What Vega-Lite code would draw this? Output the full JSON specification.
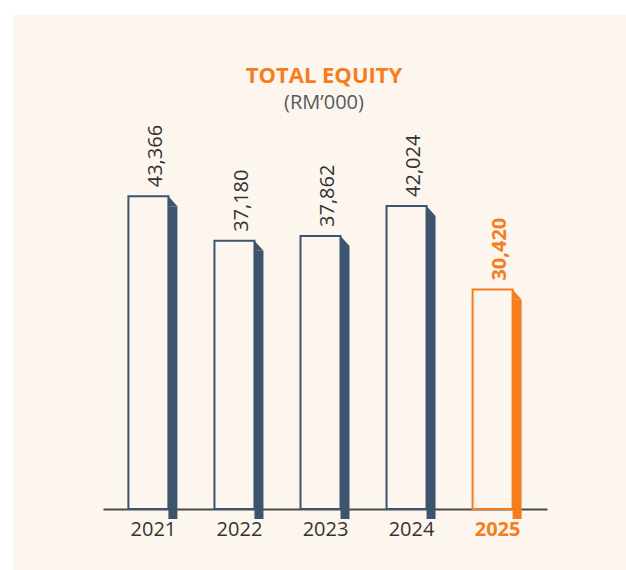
{
  "$schema": "https://vega.github.io/schema/vega-lite/v6.json",
  "autosize": {"type": "none"},
  "width": 613,
  "height": 555,
  "padding": {"left": 13, "top": 15, "right": 0, "bottom": 0},
  "background": "#ffffff",
  "config": {"view": {"fill": "#fdf6ef", "stroke": null}, "font": "Open Sans"},
  "title": {
    "text": "TOTAL EQUITY",
    "subtitle": "(RM’000)",
    "anchor": "middle",
    "orient": "top",
    "offset": -99,
    "dx": 4.5,
    "font": "Open Sans",
    "fontSize": 22,
    "fontWeight": "bold",
    "color": "#f47d20",
    "subtitleFont": "Open Sans",
    "subtitleFontSize": 20,
    "subtitleColor": "#58595b",
    "subtitlePadding": 5
  },
  "data": {
    "values": [
      {"year": "2021", "value": 43366, "label": "43,366"},
      {"year": "2022", "value": 37180, "label": "37,180"},
      {"year": "2023", "value": 37862, "label": "37,862"},
      {"year": "2024", "value": 42024, "label": "42,024"},
      {"year": "2025", "value": 30420, "label": "30,420"}
    ]
  },
  "encoding": {
    "x": {
      "field": "year",
      "type": "nominal",
      "sort": null,
      "scale": {"type": "point", "range": [90, 534], "padding": 0.58},
      "axis": {
        "title": null,
        "domain": true,
        "domainColor": "#4a4a4a",
        "domainWidth": 2,
        "ticks": false,
        "tickSize": 0,
        "grid": false,
        "labelAngle": 0,
        "labelPadding": 10,
        "labelFont": "Open Sans",
        "labelFontSize": 20,
        "labelColor": {"condition": {"test": "datum.value === '2025'", "value": "#f47d20"}, "value": "#333333"},
        "labelFontWeight": {"condition": {"test": "datum.value === '2025'", "value": "bold"}, "value": "normal"},
        "offset": -61
      }
    },
    "y": {
      "field": "value",
      "type": "quantitative",
      "scale": {"domain": [0, 68500], "range": [494, 0], "nice": false, "zero": true},
      "axis": null
    }
  },
  "layer": [
    {
      "mark": {"type": "bar", "width": 9, "xOffset": 20, "yOffset": 10},
      "encoding": {
        "color": {"condition": {"test": "datum.year === '2025'", "value": "#f47d20"}, "value": "#3d546e"}
      }
    },
    {
      "mark": {"type": "point", "shape": "M-0.9,-1L0.9,1L-0.9,1Z", "size": 100, "filled": true, "opacity": 1, "strokeWidth": 0, "xOffset": 20, "yOffset": 5},
      "encoding": {
        "color": {"condition": {"test": "datum.year === '2025'", "value": "#f47d20"}, "value": "#3d546e"}
      }
    },
    {
      "mark": {"type": "bar", "width": 40, "xOffset": -4.5, "fill": "#fdf6ef", "strokeWidth": 2},
      "encoding": {
        "stroke": {"condition": {"test": "datum.year === '2025'", "value": "#f47d20"}, "value": "#3d546e"}
      }
    },
    {
      "transform": [{"filter": "datum.year !== '2025'"}],
      "mark": {"type": "text", "angle": 270, "align": "left", "baseline": "middle", "fontSize": 20, "font": "Open Sans", "color": "#333333", "xOffset": 3, "yOffset": -9},
      "encoding": {
        "text": {"field": "label"}
      }
    },
    {
      "transform": [{"filter": "datum.year === '2025'"}],
      "mark": {"type": "text", "angle": 270, "align": "left", "baseline": "middle", "fontSize": 20, "font": "Open Sans", "fontWeight": "bold", "color": "#f47d20", "xOffset": 3, "yOffset": -9},
      "encoding": {
        "text": {"field": "label"}
      }
    }
  ]
}
